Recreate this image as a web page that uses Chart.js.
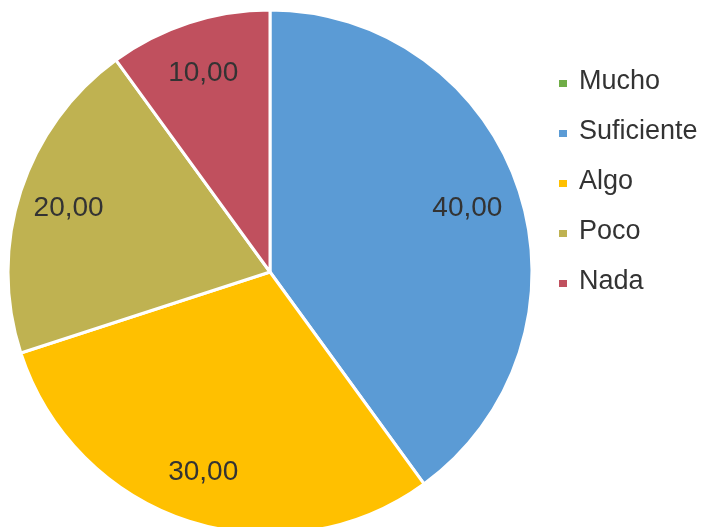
<!DOCTYPE html>
<html><head><meta charset="utf-8">
<script src="https://cdn.jsdelivr.net/npm/chart.js@4"></script>
<style>html,body{margin:0;padding:0;overflow:hidden;background:#fff;width:704px;height:527px}</style>
</head><body>
<canvas id="c" width="704" height="560"></canvas>
<script>
const categories = ['Mucho', 'Suficiente', 'Algo', 'Poco', 'Nada'];
const values = [0, 40, 30, 20, 10];
const valueLabels = ['0,00', '40,00', '30,00', '20,00', '10,00'];
const colors = ['#70AD47', '#5B9BD5', '#FFC000', '#BFB251', '#C0505E'];

const labelPlugin = {
  id: 'labels',
  afterDatasetsDraw(chart) {
    const ctx = chart.ctx;
    const meta = chart.getDatasetMeta(0);
    ctx.save();
    ctx.font = '28px "Liberation Sans", Arial, sans-serif';
    ctx.fillStyle = '#333333';
    ctx.textAlign = 'center';
    ctx.textBaseline = 'middle';
    meta.data.forEach((arc, i) => {
      if (!values[i]) return;
      const p = arc.getProps(['x','y','startAngle','endAngle','outerRadius'], true);
      const mid = (p.startAngle + p.endAngle) / 2;
      const r = p.outerRadius * 0.8;
      ctx.fillText(valueLabels[i], p.x + Math.cos(mid) * r - 2, p.y + Math.sin(mid) * r + 1);
    });
    // legend
    ctx.font = '27px "Liberation Sans", Arial, sans-serif';
    categories.forEach((name, i) => {
      const y = 80 + i * 50;
      ctx.fillStyle = colors[i];
      ctx.fillRect(559, y, 8, 7);
      ctx.fillStyle = '#333333';
      ctx.textAlign = 'left';
      ctx.fillText(name, 579, y + 2);
    });
    ctx.restore();
  }
};

new Chart(document.getElementById('c'), {
  type: 'pie',
  data: {
    labels: categories,
    datasets: [{
      data: values,
      backgroundColor: colors,
      borderColor: '#ffffff',
      borderWidth: 3
    }]
  },
  options: {
    responsive: false,
    animation: false,
    layout: { padding: { left: 6.5, top: 8.5, right: 170.5, bottom: 24.5 } },
    plugins: { legend: { display: false }, tooltip: { enabled: false } }
  },
  plugins: [labelPlugin]
});
</script>
</body></html>
